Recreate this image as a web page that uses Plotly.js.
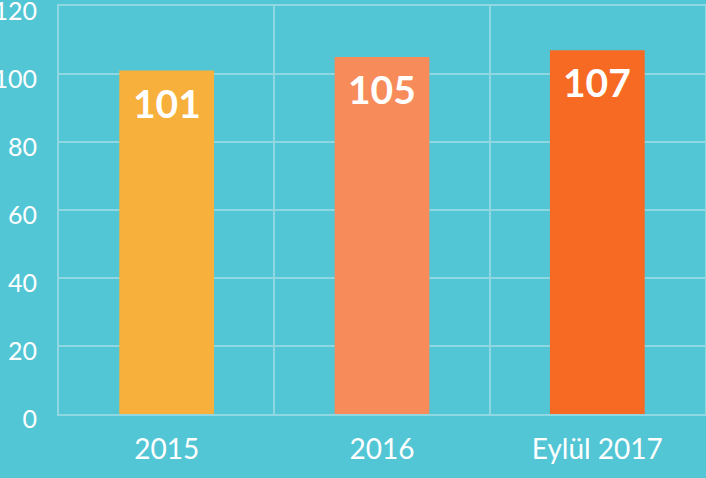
<!DOCTYPE html>
<html>
<head>
<meta charset="utf-8">
<script src="https://cdn.plot.ly/plotly-3.0.1.min.js"></script>
<style>html,body{margin:0;padding:0;background:#53c6d5;}#chart{width:706px;height:478px;}</style>
</head>
<body>
<div id="chart"></div>
<script>
const categories = ["2015", "2016", "Eylül 2017"];
const values = [101, 105, 107];
const barColors = ["#f7b03c", "#f78b59", "#f76a23"];
const yTicks = [0, 20, 40, 60, 80, 100, 120];

const bg = "#53c6d5";
const gridColor = "#8fd8e2";
const fontFam = "Lato, 'Open Sans', sans-serif";

const idx = categories.map((c, i) => i);
const boundaries = [-0.5].concat(idx.map(i => i + 0.5));

const trace = {
  type: "bar",
  x: idx,
  y: values,
  width: 0.44,
  marker: {color: barColors, line: {width: 0}},
  hoverinfo: "none",
  xaxis: "x", yaxis: "y"
};
const gridTrace = {
  type: "scatter", mode: "markers",
  x: boundaries, y: boundaries.map(() => 0),
  marker: {opacity: 0, size: 1},
  hoverinfo: "none",
  xaxis: "x2", yaxis: "y"
};

const annotations = idx.map(i => ({
  x: i, y: values[i], xref: "x", yref: "y",
  text: "<b>" + values[i] + "</b>",
  showarrow: false, yanchor: "top", yshift: -7,
  font: {family: fontFam, size: 39, color: "#ffffff"}
}));

const layout = {
  width: 706, height: 478,
  margin: {l: 59, r: 1, t: 6, b: 64},
  paper_bgcolor: bg, plot_bgcolor: bg,
  showlegend: false,
  xaxis: {
    range: [-0.5, categories.length - 0.5],
    tickvals: idx, ticktext: categories,
    showgrid: false, zeroline: false,
    showline: true, linecolor: gridColor, linewidth: 2, mirror: true,
    ticks: "",
    tickfont: {family: fontFam, size: 28, color: "#ffffff"},
    ticklabelstandoff: 9
  },
  xaxis2: {
    overlaying: "x",
    range: [-0.5, categories.length - 0.5],
    tickvals: boundaries,
    showticklabels: false, ticks: "",
    showgrid: true, gridcolor: gridColor, gridwidth: 2,
    zeroline: false, showline: false
  },
  yaxis: {
    range: [0, 120],
    tickvals: yTicks,
    ticklabeloverflow: "allow",
    ticklabelshift: 5,
    showgrid: true, gridcolor: gridColor, gridwidth: 2,
    showline: true, linecolor: gridColor, linewidth: 2, mirror: true,
    zeroline: false, ticks: "",
    tickfont: {family: fontFam, size: 25, color: "#ffffff"},
    ticklabelstandoff: 15
  },
  annotations: annotations
};

Plotly.newPlot("chart", [gridTrace, trace], layout, {displayModeBar: false, staticPlot: true});
</script>
</body>
</html>
